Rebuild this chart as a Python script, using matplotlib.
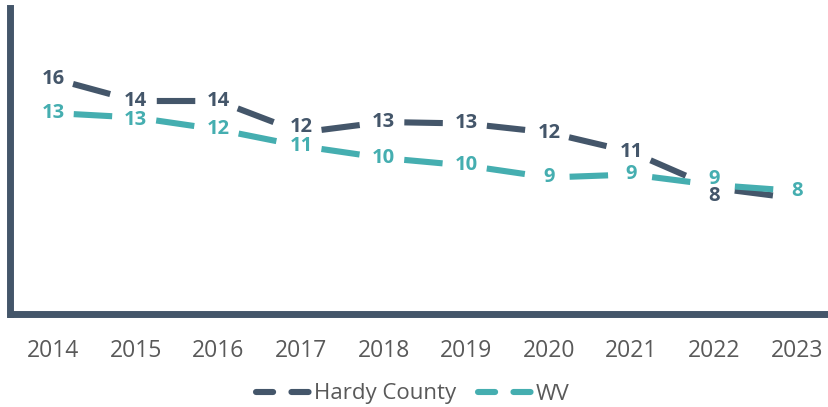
import matplotlib
matplotlib.use('Agg')
import matplotlib.pyplot as plt
from matplotlib.lines import Line2D

years = ['2014', '2015', '2016', '2017', '2018', '2019', '2020', '2021', '2022', '2023']
hardy = [15.7, 14.2, 14.2, 12.1, 12.8, 12.7, 12.1, 10.8, 8.4, 7.7]
wv = [13.4, 13.1, 12.3, 11.2, 10.4, 9.9, 9.1, 9.3, 8.6, 8.2]

HARDY_C = '#44566A'
WV_C = '#45AEB0'
LW = 4.4

fig = plt.figure(figsize=(8.29, 4.07), dpi=100)
ax = fig.add_axes([10.5 / 829, 93 / 407, 1 - 10.5 / 829, 306 / 407])
x = list(range(len(years)))

# one centered dash between each pair of points
seg_style = (-3.4, (6.3, 50))
for vals, color in [(hardy, HARDY_C), (wv, WV_C)]:
    for i in range(len(x) - 1):
        ax.plot(x[i:i + 2], vals[i:i + 2], color=color, lw=LW,
                linestyle=seg_style, dash_capstyle='butt')

# data labels, a few nudged apart like the source chart; Hardy 2023 sits under WV's
hardy_nudge = {3: 4, 8: -5.5}
wv_nudge = {1: -2, 8: 4}
for i, v in enumerate(hardy):
    if i == len(hardy) - 1:
        continue
    ax.annotate(f'{round(v)}', (x[i], v), xytext=(0, hardy_nudge.get(i, 0)),
                textcoords='offset points', ha='center', va='center', fontsize=14.5,
                fontweight='bold', color=HARDY_C, family='Open Sans')
for i, v in enumerate(wv):
    ax.annotate(f'{round(v)}', (x[i], v), xytext=(0, wv_nudge.get(i, 0)),
                textcoords='offset points', ha='center', va='center', fontsize=14.5,
                fontweight='bold', color=WV_C, family='Open Sans')

ax.set_xlim(-0.514, 9.39)
ax.set_ylim(0, 20.4)
ax.set_yticks([])
ax.set_xticks(x)
ax.set_xticklabels(years, fontsize=16.5, color='#595959', family='Open Sans')
ax.tick_params(axis='x', length=0, pad=18)
for side in ['top', 'right']:
    ax.spines[side].set_visible(False)
for side in ['left', 'bottom']:
    ax.spines[side].set_color(HARDY_C)
    ax.spines[side].set_linewidth(5)
    ax.spines[side].set_capstyle('projecting')

handles = [
    Line2D([], [], color=HARDY_C, lw=LW, linestyle=(0, (2.8, 3.0)), dash_capstyle='round'),
    Line2D([], [], color=WV_C, lw=LW, linestyle=(0, (2.8, 3.0)), dash_capstyle='round'),
]
fig.legend(handles, ['Hardy County', 'WV'], loc='center', bbox_to_anchor=(413 / 829, 1 - 394 / 407),
           ncol=2, frameon=False, handlelength=2.5, handletextpad=0.1, columnspacing=1.0,
           prop={'family': 'Open Sans', 'size': 16}, labelcolor='#595959')

plt.savefig('out.png', dpi=100)
